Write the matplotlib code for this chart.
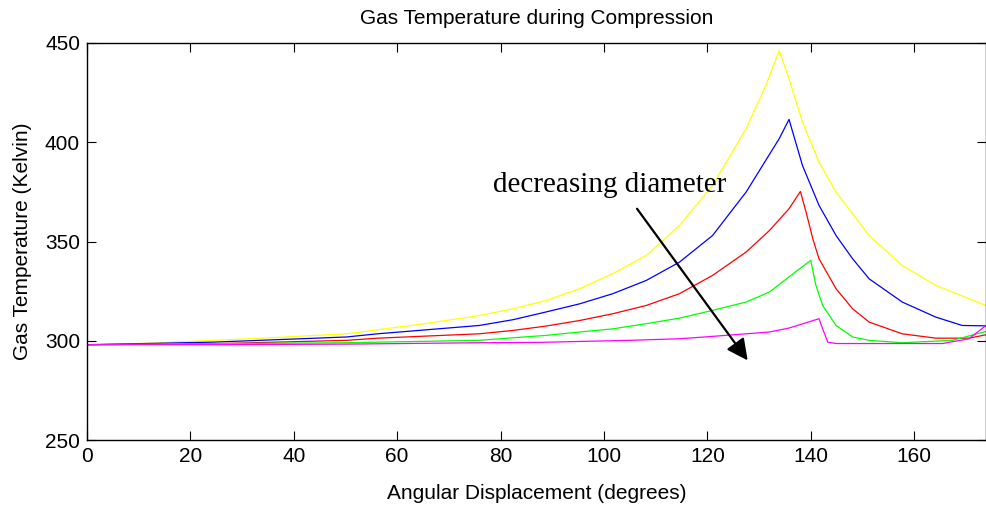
import numpy as np
import matplotlib
matplotlib.use("Agg")
import matplotlib.pyplot as plt

plt.rcParams["font.family"] = ["Liberation Sans", "DejaVu Sans"]

# angle (deg) / gas temperature (K)
ang_y = [0, 12, 24.4, 37, 50.2, 56.2, 65, 75.9, 82.4, 88.8, 95.3, 101.7, 108.2, 114.6, 121.0,
         127.5, 131.3, 133.9, 135.8, 138.4, 141.6, 144.9, 151.3, 157.7, 164.2, 170.6, 173.9]
T_y = [298.0, 298.8, 300.2, 301.7, 303.5, 305.5, 308.5, 312.7, 316.1, 320.3, 326.2, 333.8, 343.0, 358.1, 378.2,
       406.8, 428.6, 446.2, 432.0, 410.2, 390.0, 374.9, 353.0, 337.9, 327.9, 321.2, 317.8]

ang_b = [0, 24.4, 50.2, 56.2, 75.9, 82.4, 88.8, 95.3, 101.7, 108.2, 114.6, 121.0, 127.5, 133.9, 135.8,
         138.4, 141.6, 144.9, 148.1, 151.3, 157.7, 164.2, 169.3, 173.9]
T_b = [298.0, 299.3, 301.9, 303.5, 307.7, 310.6, 314.5, 318.6, 323.7, 330.4, 339.6, 353.0, 374.9, 401.8, 411.5,
       388.3, 368.2, 353.0, 341.3, 331.2, 319.5, 311.9, 307.7, 307.5]

ang_r = [0, 24.4, 50.2, 56.2, 75.9, 82.4, 88.8, 95.3, 101.7, 108.2, 114.6, 121.0, 127.5, 132.0, 135.8, 138.0,
         139.1, 140.4, 141.6, 144.9, 148.1, 151.3, 157.7, 164.2, 170.6, 173.9]
T_r = [298.0, 298.5, 300.2, 301.3, 303.5, 305.2, 307.4, 310.2, 313.6, 317.8, 323.7, 332.9, 344.7, 355.5, 366.5, 375.2,
       364.8, 351.4, 341.3, 326.2, 316.1, 309.4, 303.5, 301.3, 301.3, 303.0]

ang_g = [0, 24.4, 50.2, 56.2, 75.9, 82.4, 88.8, 95.3, 101.7, 108.2, 114.6, 121.0, 127.5, 132.0, 135.2, 140.0,
         141.0, 142.3, 144.9, 148.1, 151.3, 157.7, 167.4, 173.9]
T_g = [298.0, 298.5, 299.0, 299.3, 300.2, 301.5, 302.7, 304.4, 306.0, 308.6, 311.4, 315.3, 319.5, 324.5, 331.0, 340.5,
       327.9, 317.8, 307.7, 301.9, 300.2, 299.0, 300.2, 304.7]

ang_m = [0, 24.4, 50.2, 75.9, 87.6, 104.9, 114.6, 121.0, 127.5, 132.0, 135.8, 141.6,
         142.3, 143.3, 144.9, 165.5, 170.6, 173.9]
T_m = [298.0, 298.0, 298.3, 299.0, 299.2, 300.2, 301.0, 302.2, 303.5, 304.4, 306.4, 311.1,
       306.0, 299.3, 298.6, 298.6, 301.0, 307.7]

fig = plt.figure(figsize=(9.87, 5.05), dpi=100)
ax = fig.add_axes([87 / 987, 65 / 505, 899.5 / 987, 397 / 505])

ax.plot(ang_y, T_y, color="#ffff00", lw=0.9)
ax.plot(ang_b, T_b, color="#0000ff", lw=0.9)
ax.plot(ang_r, T_r, color="#ff0000", lw=0.9)
ax.plot(ang_g, T_g, color="#00ff00", lw=0.9)
ax.plot(ang_m, T_m, color="#ff00ff", lw=0.9)

ax.annotate("", xy=(127.8, 290.1), xytext=(106.4, 366.5),
            arrowprops=dict(arrowstyle="-|>", lw=1.6, color="k", mutation_scale=32,
                            shrinkA=0, shrinkB=0))
ax.text(78.5, 375, "decreasing diameter", family=["Liberation Serif", "DejaVu Serif"],
        fontsize=21, va="baseline")

ax.set_xlim(0, 174)
ax.set_ylim(250, 450)
ax.set_xticks(np.arange(0, 161, 20))
ax.set_yticks(np.arange(250, 451, 50))
ax.tick_params(direction="in", top=True, right=True, length=6.5, width=0.8,
               labelsize=15, pad=5)
for s in ax.spines.values():
    s.set_linewidth(1.0)

ax.set_xlabel("Angular Displacement (degrees)", fontsize=15, labelpad=13)
ax.set_ylabel("Gas Temperature (Kelvin)", fontsize=15, labelpad=9)
ax.set_title("Gas Temperature during Compression", fontsize=15, pad=14)

fig.savefig("out.png", dpi=100)
